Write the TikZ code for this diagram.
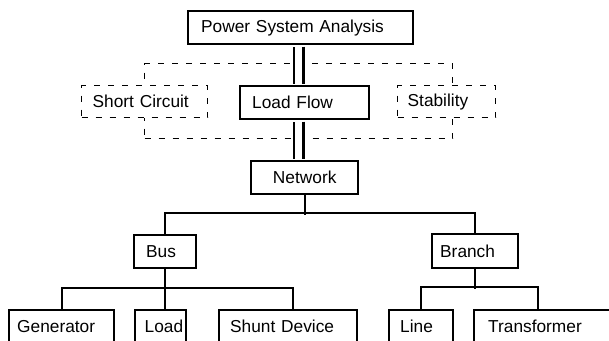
\documentclass[tikz,border=0pt]{standalone}
\usepackage{fontspec}
\setmainfont{Liberation Sans}
\begin{document}
\begin{tikzpicture}[x=1bp,y=-1bp,
  bx/.style={draw, line width=2.4bp, fill=white, anchor=north west, inner xsep=0pt, inner ysep=0pt,
    align=left, minimum height=33bp, font=\fontsize{17.3bp}{20bp}\selectfont},
  dbx/.style={bx, line width=1.3bp, dash pattern=on 6bp off 8bp, minimum height=32bp},
  cn/.style={line width=2.2bp},
  dbl/.style={double, double distance=7bp, line width=2.5bp, shorten >=1.2bp, shorten <=1.2bp}]
\useasboundingbox (0,0) rectangle (609,340);
% group of analyses
\node[draw, line width=1.3bp, dash pattern=on 6bp off 8bp, anchor=north west, inner sep=0pt,
  minimum width=308bp, minimum height=75bp] (grp) at (144,63) {};
% boxes
\node[bx, text width=225bp] (psa) at (187,10) {\hspace*{13bp}Power System Analysis};
\node[bx, text width=129bp] (lf) at (239,85) {\hspace*{12bp}Load Flow};
\node[bx, text width=107bp, align=center] (nw) at (250,160) {Network};
% double connectors
\draw[dbl] ([xshift=-2bp]psa.south) -- ([xshift=-2bp]psa.south |- lf.north);
\draw[dbl] ([xshift=-2bp]psa.south |- lf.south) -- ([xshift=-2bp]psa.south |- nw.north);
\node[dbx, text width=126bp] (sc) at (81,85) {\hspace*{11bp}Short Circuit};
\node[dbx, text width=98bp] (st) at (397,85) {\hspace*{10bp}Stability};
% second level
\node[bx, text width=62bp] (bus) at (133,234) {\hspace*{12bp}Bus};
\node[bx, text width=86bp, minimum height=34bp] (br) at (431,233) {\hspace*{8bp}Branch};
% third level
\node[bx, text width=105bp] (gen) at (8,309) {\hspace*{8bp}Generator};
\node[bx, text width=51bp] (ld) at (134,309) {\hspace*{9.5bp}Load};
\node[bx, text width=138bp] (sh) at (218,309) {\hspace*{11bp}Shunt Device};
\node[bx, text width=64bp] (ln) at (388,309) {\hspace*{11bp}Line};
\node[bx, text width=170bp] (tr) at (473,309) {\hspace*{14bp}Transformer};
% tree connectors
\draw[cn] (nw.south) -- ++(0,20);
\draw[cn] (bus.north) -- ++(0,-21) -| (br.north);
\draw[cn] (bus.south) -- (bus.south |- ld.north);
\draw[cn] (gen.north) -- ++(0,-21) -| ([xshift=75bp]sh.north west);
\draw[cn] (br.south) -- ++(0,20);
\draw[cn] (ln.north) -- ++(0,-22) -| ([xshift=65bp]tr.north west);
\end{tikzpicture}
\end{document}
